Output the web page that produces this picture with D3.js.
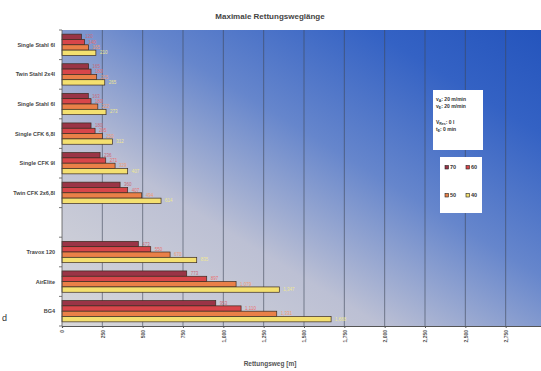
<!DOCTYPE html>
<html>
<head>
    <title>Maximale Rettungsweglänge</title>
    <script src="https://d3js.org/d3.v7.min.js"></script>
    <style>
        body, html {
            margin: 0;
            background: #fff;
            overflow: hidden;
        }
        text {
            font-family: "Liberation Sans", Arial, sans-serif;
        }
    </style>
</head>
<body>
<div id="chart"></div>
<script>
    // categories top to bottom ("" is the empty slot between the groups)
    const categories = ["Single Stahl 6l", "Twin Stahl 2x4l", "Single Stahl 6l", "Single CFK 6,8l",
                        "Single CFK 9l", "Twin CFK 2x6,8l", "", "Travox 120", "AirElite", "BG4"];
    const seriesNames = ["70", "60", "50", "40"];
    const values70 = [120, 165, 163, 180, 236, 360, null, 473, 773, 953];
    const values60 = [140, 180, 180, 205, 271, 407, null, 550, 897, 1110];
    const values50 = [165, 215, 222, 250, 329, 494, null, 670, 1079, 1331];
    const values40 = [210, 265, 273, 312, 407, 614, null, 835, 1347, 1668];
    const xTicks = [0, 250, 500, 750, 1000, 1250, 1500, 1750, 2000, 2250, 2500, 2750];
    const colors = ["#9a3446", "#d8464a", "#ea8048", "#f4e070"];
    const labelColors = ["#c86a78", "#e87070", "#f09a70", "#f0e890"];

    const width = 541, height = 371;
    const plotLeft = 62, plotTop = 30, plotBottom = 326, plotRight = 546;

    const svg = d3.select("#chart").append("svg")
                  .attr("width", width)
                  .attr("height", height);

    // background gradient of the plot area
    const grad = svg.append("defs").append("linearGradient")
                    .attr("id", "bg")
                    .attr("x1", 0).attr("y1", 1).attr("x2", 1).attr("y2", 0);
    grad.append("stop").attr("offset", "0%").attr("stop-color", "#d8d8da");
    grad.append("stop").attr("offset", "33%").attr("stop-color", "#bcc0d4");
    grad.append("stop").attr("offset", "58%").attr("stop-color", "#6686cc");
    grad.append("stop").attr("offset", "82%").attr("stop-color", "#3462c4");
    grad.append("stop").attr("offset", "100%").attr("stop-color", "#2454bc");

    const x = d3.scaleLinear().domain([0, 3000]).range([plotLeft, plotRight]);
    const y = d3.scaleBand().domain(d3.range(categories.length)).range([plotTop, plotBottom]).paddingInner(0.28).paddingOuter(0.14);
    const ySub = d3.scaleBand().domain(seriesNames).range([0, y.bandwidth()]);
    const step = y.step();

    svg.append("rect")
       .attr("x", plotLeft).attr("y", plotTop)
       .attr("width", plotRight - plotLeft).attr("height", plotBottom - plotTop)
       .attr("fill", "url(#bg)");

    // vertical gridlines
    svg.append("g").selectAll("line")
       .data(xTicks.slice(1).concat([3000]))
       .join("line")
       .attr("x1", d => x(d)).attr("x2", d => x(d))
       .attr("y1", plotTop).attr("y2", plotBottom)
       .attr("stroke", "#3e4658")
       .attr("stroke-opacity", 0.75)
       .attr("stroke-width", 0.8);

    // bars
    const series = [values70, values60, values50, values40];
    series.forEach((vals, s) => {
        const g = svg.append("g");
        const rows = vals.map((v, i) => ({v, i})).filter(d => d.v !== null);
        g.selectAll("rect")
         .data(rows)
         .join("rect")
         .attr("x", x(0))
         .attr("y", d => y(d.i) + ySub(seriesNames[s]))
         .attr("width", d => x(d.v) - x(0))
         .attr("height", ySub.bandwidth())
         .attr("fill", colors[s])
         .attr("stroke", "#3a2a20")
         .attr("stroke-width", 0.7);
        g.selectAll("text")
         .data(rows)
         .join("text")
         .attr("x", d => x(d.v) + 4)
         .attr("y", d => y(d.i) + ySub(seriesNames[s]) + ySub.bandwidth() / 2 + 1.5)
         .attr("font-size", 4.5)
         .attr("fill", labelColors[s])
         .text(d => d3.format(",")(d.v));
    });

    // category labels
    svg.append("g").selectAll("text")
       .data(categories)
       .join("text")
       .attr("x", 55)
       .attr("y", (d, i) => y(i) + y.bandwidth() / 2 + 2)
       .attr("text-anchor", "end")
       .attr("font-size", 5.5)
       .attr("font-weight", "bold")
       .attr("fill", "#444")
       .text(d => d);

    // y axis line and ticks between categories
    svg.append("line")
       .attr("x1", plotLeft).attr("x2", plotLeft).attr("y1", plotTop).attr("y2", plotBottom)
       .attr("stroke", "#555").attr("stroke-width", 0.8);
    svg.append("g").selectAll("line")
       .data(d3.range(categories.length + 1))
       .join("line")
       .attr("x1", plotLeft - 3).attr("x2", plotLeft)
       .attr("y1", i => plotTop + i * step).attr("y2", i => plotTop + i * step)
       .attr("stroke", "#555").attr("stroke-width", 0.8);

    // x axis
    const xAxis = svg.append("g")
       .attr("transform", `translate(0,${plotBottom})`)
       .call(d3.axisBottom(x).tickValues(xTicks).tickSize(2).tickFormat(d3.format(",")));
    xAxis.select(".domain").attr("stroke", "#555").attr("stroke-width", 1.2);
    xAxis.selectAll(".tick line").attr("stroke", "#555");
    xAxis.selectAll("text")
         .attr("transform", "rotate(-90)")
         .attr("x", -4).attr("y", 0).attr("dy", "0.35em")
         .attr("text-anchor", "end")
         .attr("font-size", 5)
         .attr("font-weight", "bold")
         .attr("fill", "#555");

    // titles
    svg.append("text")
       .attr("x", 270).attr("y", 19)
       .attr("text-anchor", "middle")
       .attr("font-size", 8)
       .attr("font-weight", "bold")
       .attr("fill", "#444")
       .text("Maximale Rettungsweglänge");
    svg.append("text")
       .attr("x", 270).attr("y", 366)
       .attr("text-anchor", "middle")
       .attr("font-size", 6.5)
       .attr("font-weight", "bold")
       .attr("fill", "#555")
       .text("Rettungsweg [m]");

    // parameter box
    const info = svg.append("g").attr("transform", "translate(433,90)");
    info.append("rect").attr("width", 50).attr("height", 60).attr("fill", "#fff");
    const infoLines = [["v", "A", ": 20 m/min", 11], ["v", "E", ": 20 m/min", 18], ["V", "Res", ":  0 l", 34], ["t", "E", ":     0 min", 41]];
    infoLines.forEach(l => {
        const t = info.append("text").attr("x", 3).attr("y", l[3])
                      .attr("font-size", 5).attr("font-weight", "bold").attr("fill", "#333");
        t.append("tspan").text(l[0]);
        t.append("tspan").attr("font-size", 3.5).attr("dy", 1).text(l[1]);
        t.append("tspan").attr("dy", -1).text(l[2]);
    });

    // legend
    const legend = svg.append("g").attr("transform", "translate(440,157)");
    legend.append("rect").attr("width", 42).attr("height", 56).attr("fill", "#fff");
    seriesNames.forEach((name, i) => {
        const lx = 5 + (i % 2) * 21, ly = 12 + Math.floor(i / 2) * 28;
        legend.append("rect")
              .attr("x", lx).attr("y", ly - 3.5)
              .attr("width", 3.5).attr("height", 3.5)
              .attr("fill", colors[i]).attr("stroke", "#222").attr("stroke-width", 0.6);
        legend.append("text")
              .attr("x", lx + 5).attr("y", ly)
              .attr("font-size", 5.5).attr("font-weight", "bold").attr("fill", "#333")
              .text(name);
    });

    // stray mark at the bottom left of the scan
    svg.append("text")
       .attr("x", 2).attr("y", 321)
       .attr("font-size", 9)
       .attr("fill", "#333")
       .text("d");
</script>
</body>
</html>
